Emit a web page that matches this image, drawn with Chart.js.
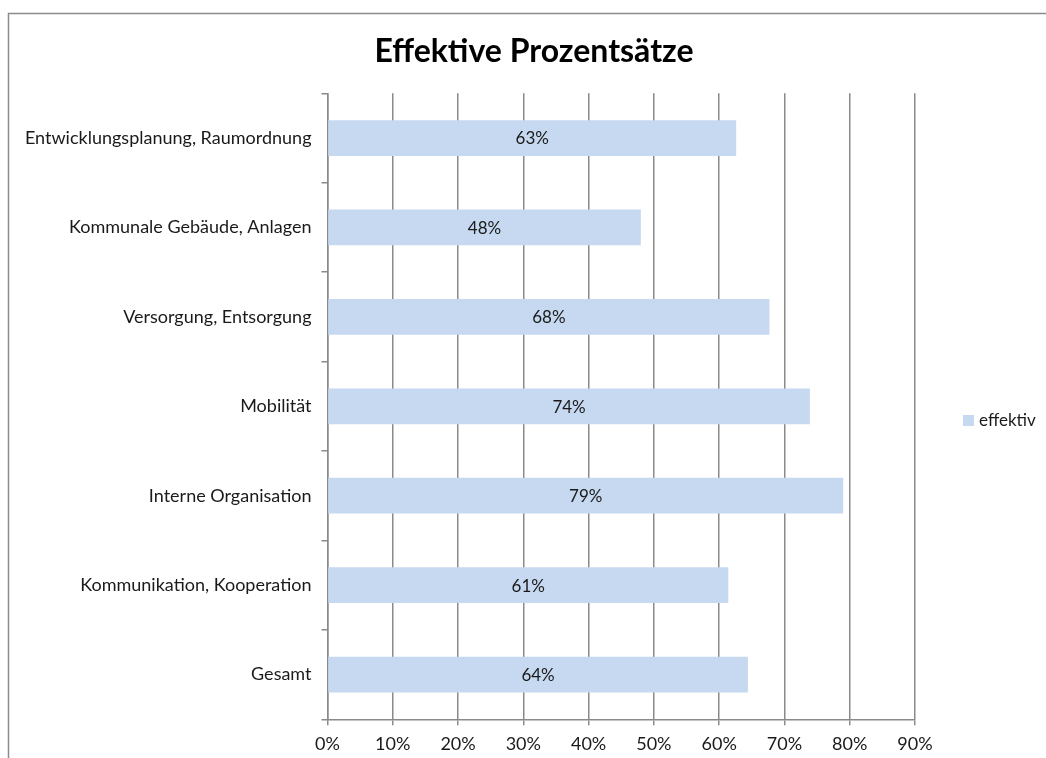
<!DOCTYPE html>
<html lang="de">
<head>
<meta charset="utf-8">
<title>Effektive Prozentsätze</title>
<script src="https://cdn.jsdelivr.net/npm/chart.js@4.4.1/dist/chart.umd.min.js"></script>
<style>
  html, body { margin: 0; padding: 0; background: #ffffff; }
  #wrap { position: relative; width: 1046px; height: 758px; }
</style>
</head>
<body>
<div id="wrap"><canvas id="chart" width="1046" height="758"></canvas></div>
<script>
// Kategorien (von oben nach unten)
const categories = [
  'Entwicklungsplanung, Raumordnung',
  'Kommunale Gebäude, Anlagen',
  'Versorgung, Entsorgung',
  'Mobilität',
  'Interne Organisation',
  'Kommunikation, Kooperation',
  'Gesamt'
];
// Effektive Prozentsätze je Bereich (in %)
const effektiv = [62.6, 48.0, 67.7, 73.9, 79.0, 61.4, 64.4];
// Beschriftung der Prozentachse
const xTicks = [0, 10, 20, 30, 40, 50, 60, 70, 80, 90];

const chartTitle = 'Effektive Prozentsätze';
const seriesName = 'effektiv';
const barColor = '#C6D9F0';
const axisColor = '#8a8a8a';
const textColor = '#1a1a1a';
const fontFamily = 'Lato, "Open Sans", "DejaVu Sans", sans-serif';

// Rahmen, weißer Hintergrund und Überschrift
const framePlugin = {
  id: 'frame',
  beforeDraw(chart) {
    const ctx = chart.ctx;
    ctx.save();
    ctx.fillStyle = '#ffffff';
    ctx.fillRect(0, 0, chart.width, chart.height);
    ctx.strokeStyle = '#8c8c8c';
    ctx.lineWidth = 1.5;
    ctx.strokeRect(8.5, 13.5, chart.width + 20, chart.height + 20);
    ctx.font = 'bold 32px ' + fontFamily;
    ctx.fillStyle = '#000000';
    ctx.textAlign = 'center';
    ctx.textBaseline = 'middle';
    ctx.fillText(chartTitle, 534, 52);
    ctx.restore();
  }
};

// Wertbeschriftung mittig im Balken
const valueLabels = {
  id: 'valueLabels',
  afterDatasetsDraw(chart) {
    const ctx = chart.ctx;
    const meta = chart.getDatasetMeta(0);
    ctx.save();
    ctx.font = '17px ' + fontFamily;
    ctx.fillStyle = textColor;
    ctx.textAlign = 'center';
    ctx.textBaseline = 'middle';
    meta.data.forEach((bar, i) => {
      const v = chart.data.datasets[0].data[i];
      const cx = (bar.base + bar.x) / 2;
      ctx.fillText(Math.round(v) + '%', cx, bar.y + 1);
    });
    ctx.restore();
  }
};

// Legende rechts neben dem Diagramm
const sideLegend = {
  id: 'sideLegend',
  afterDraw(chart) {
    const ctx = chart.ctx;
    const ds = chart.data.datasets[0];
    const x = chart.chartArea.right + 48;
    const y = 421;
    ctx.save();
    ctx.fillStyle = ds.backgroundColor;
    ctx.fillRect(x, y - 6, 11, 11);
    ctx.font = '17px ' + fontFamily;
    ctx.fillStyle = textColor;
    ctx.textAlign = 'left';
    ctx.textBaseline = 'middle';
    ctx.fillText(ds.label, x + 16, y);
    ctx.restore();
  }
};

new Chart(document.getElementById('chart'), {
  type: 'bar',
  data: {
    labels: categories,
    datasets: [{
      label: seriesName,
      data: effektiv,
      backgroundColor: barColor,
      borderWidth: 0,
      categoryPercentage: 0.8,
      barPercentage: 0.5
    }]
  },
  options: {
    indexAxis: 'y',
    responsive: false,
    animation: false,
    layout: { padding: { left: 0, right: 131, top: 93.3, bottom: 0 } },
    plugins: {
      legend: { display: false },
      tooltip: { enabled: false },
      title: { display: false }
    },
    scales: {
      x: {
        min: 0,
        max: 90,
        afterBuildTicks(scale) {
          scale.ticks = xTicks.map(v => ({ value: v }));
        },
        afterFit(scale) { scale.height = 38.7; },
        ticks: {
          color: textColor,
          font: { family: fontFamily, size: 18 },
          padding: 8,
          callback: v => v + '%'
        },
        grid: {
          color: axisColor,
          lineWidth: 1.5,
          tickLength: 6,
          drawTicks: true
        },
        border: { display: true, color: axisColor, width: 1.5 }
      },
      y: {
        afterFit(scale) { scale.width = 327.5; },
        ticks: {
          color: textColor,
          font: { family: fontFamily, size: 18 },
          padding: 10
        },
        grid: {
          offset: true,
          drawOnChartArea: false,
          color: axisColor,
          lineWidth: 1.5,
          tickLength: 6
        },
        border: { display: true, color: axisColor, width: 1.5 }
      }
    }
  },
  plugins: [framePlugin, valueLabels, sideLegend]
});
</script>
</body>
</html>
